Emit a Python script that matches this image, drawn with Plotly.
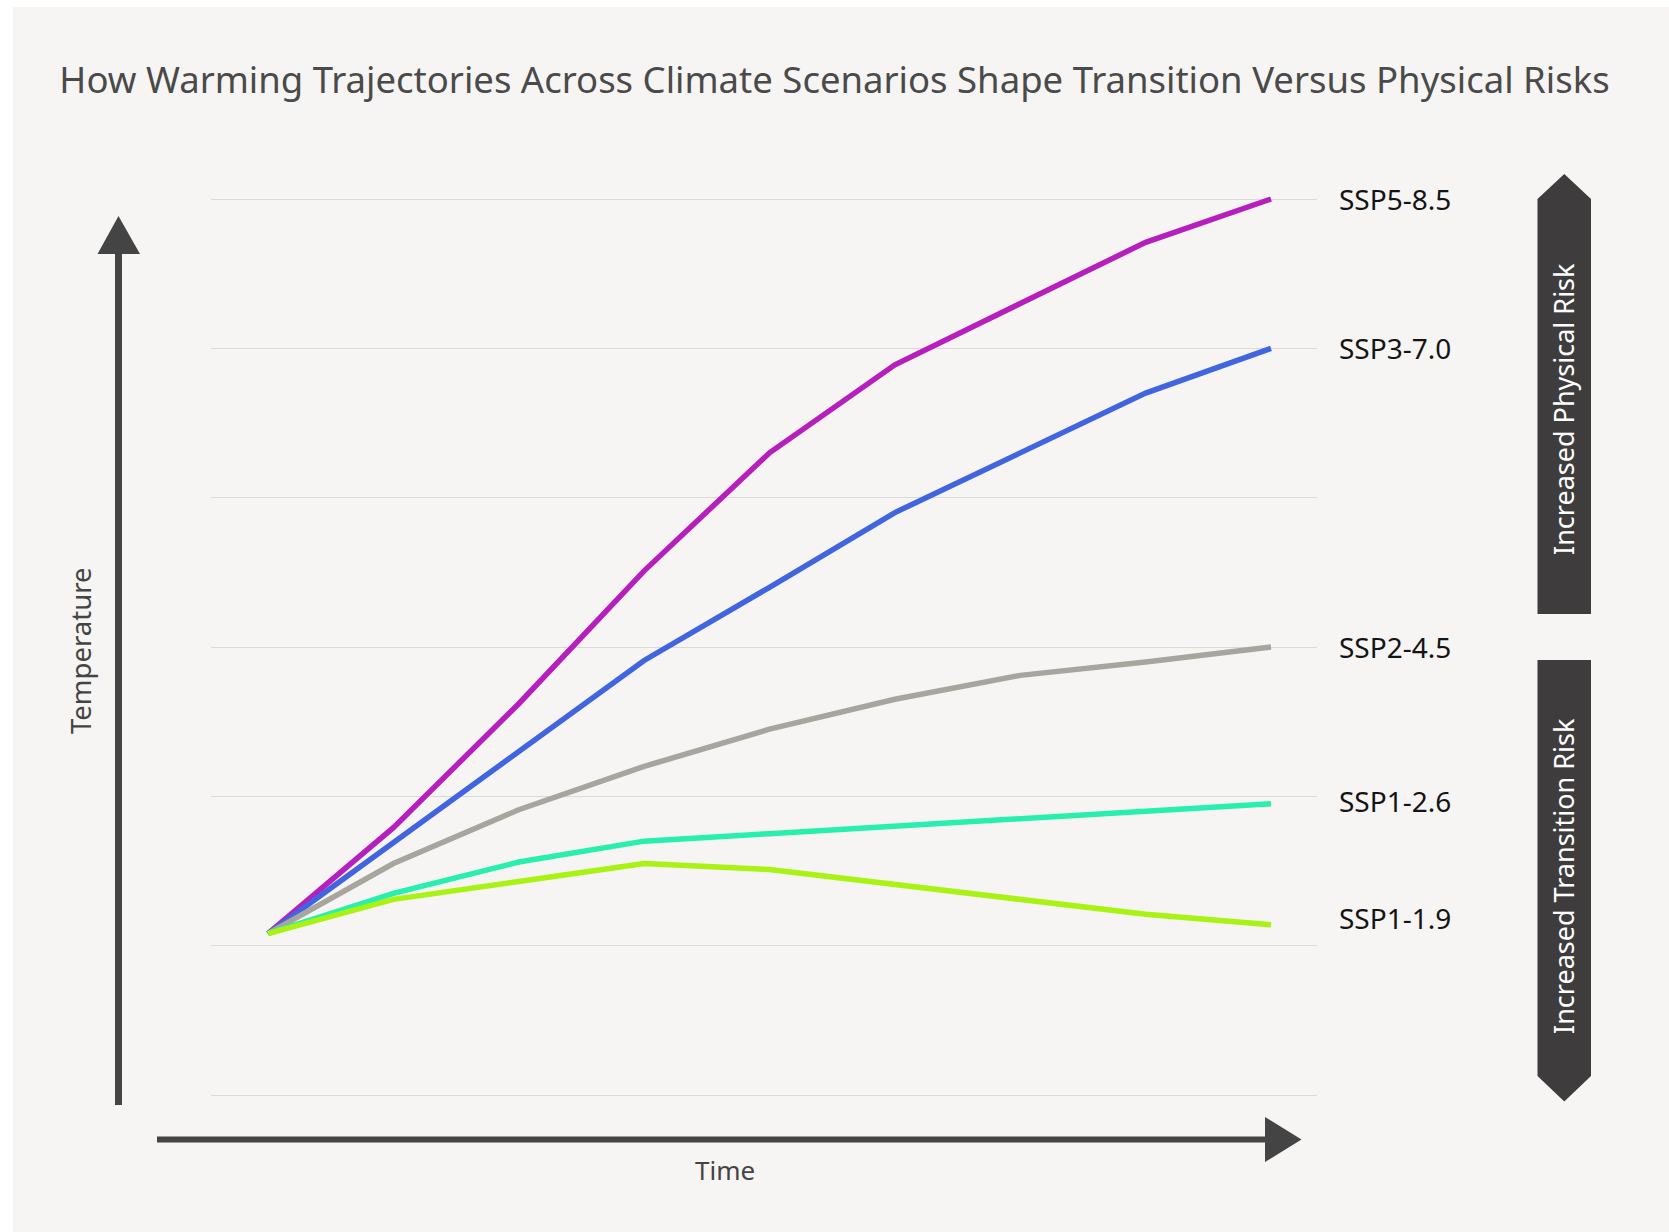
import plotly.graph_objects as go

# ---------------- data ----------------
years = [2020, 2030, 2040, 2050, 2060, 2070, 2080, 2090, 2100]
scenario_names = ["SSP5-8.5", "SSP3-7.0", "SSP2-4.5", "SSP1-2.6", "SSP1-1.9"]
ssp585 = [1.08, 1.79, 2.62, 3.51, 4.30, 4.89, 5.30, 5.71, 6.00]
ssp370 = [1.08, 1.69, 2.30, 2.91, 3.40, 3.90, 4.30, 4.70, 5.00]
ssp245 = [1.08, 1.55, 1.91, 2.20, 2.45, 2.65, 2.81, 2.90, 3.00]
ssp126 = [1.08, 1.35, 1.56, 1.70, 1.75, 1.80, 1.85, 1.90, 1.95]
ssp119 = [1.08, 1.31, 1.43, 1.55, 1.51, 1.41, 1.31, 1.21, 1.14]
series = [ssp585, ssp370, ssp245, ssp126, ssp119]
colors = ["#b71fbd", "#4065de", "#a8a59f", "#29efae", "#a9f214"]
label_shift = [0, 0, 0, 3, 7]

title_text = "How Warming Trajectories Across Climate Scenarios Shape Transition Versus Physical Risks"
x_title = "Time"
y_title = "Temperature"
risk_up = "Increased Physical Risk"
risk_down = "Increased Transition Risk"

# ---------------- layout geometry (pixels) ----------------
W, H = 1669, 1232
L, R, T, B = 211, 352, 191, 130
PX0, PX1 = L, W - R
PY0, PY1 = T, H - B

def px(x):
    return (x - PX0) / (PX1 - PX0)

def py(y):
    return (PY1 - y) / (PY1 - PY0)

card = "#f6f5f3"
dark = "#444444"
box = "#3e3c3d"

fig = go.Figure()
for name, vals, col in zip(scenario_names, series, colors):
    fig.add_trace(go.Scatter(x=years, y=vals, mode="lines", name=name,
                             line=dict(color=col, width=5.5), hoverinfo="skip"))

shapes = []
# card background
shapes.append(dict(type="rect", xref="paper", yref="paper", layer="below",
                   x0=px(13), x1=px(W + 5), y0=py(7), y1=py(H + 5),
                   fillcolor=card, line=dict(width=0)))
# vertical axis arrow
shapes.append(dict(type="line", xref="paper", yref="paper",
                   x0=px(118.5), x1=px(118.5), y0=py(1105), y1=py(250),
                   line=dict(color=dark, width=7)))
shapes.append(dict(type="path", xref="paper", yref="paper",
                   path=f"M {px(97.5)},{py(254)} L {px(140)},{py(254)} L {px(118.5)},{py(216)} Z",
                   fillcolor=dark, line=dict(width=0)))
# horizontal axis arrow
shapes.append(dict(type="line", xref="paper", yref="paper",
                   x0=px(157), x1=px(1268), y0=py(1139.5), y1=py(1139.5),
                   line=dict(color=dark, width=6)))
shapes.append(dict(type="path", xref="paper", yref="paper",
                   path=f"M {px(1265)},{py(1117)} L {px(1301.5)},{py(1139.5)} L {px(1265)},{py(1162)} Z",
                   fillcolor=dark, line=dict(width=0)))
# right risk boxes
bx0, bx1, bxc = 1537.5, 1591, 1564.3
shapes.append(dict(type="path", xref="paper", yref="paper",
                   path=(f"M {px(bx0)},{py(614)} L {px(bx0)},{py(199)} L {px(bxc)},{py(174)} "
                         f"L {px(bx1)},{py(199)} L {px(bx1)},{py(614)} Z"),
                   fillcolor=box, line=dict(width=0)))
shapes.append(dict(type="path", xref="paper", yref="paper",
                   path=(f"M {px(bx0)},{py(660)} L {px(bx0)},{py(1076)} L {px(bxc)},{py(1101.5)} "
                         f"L {px(bx1)},{py(1076)} L {px(bx1)},{py(660)} Z"),
                   fillcolor=box, line=dict(width=0)))

annotations = []
for name, vals, sh in zip(scenario_names, series, label_shift):
    annotations.append(dict(text=name, xref="paper", yref="y", x=px(1337), y=vals[-1],
                            xanchor="left", yanchor="middle", showarrow=False, yshift=sh,
                            font=dict(family="Noto Sans", size=28, color="#141414")))
annotations.append(dict(text=y_title, xref="paper", yref="paper", x=px(80), y=py(651),
                        textangle=-90, showarrow=False, xanchor="center", yanchor="middle",
                        font=dict(family="Noto Sans", size=27.5, color=dark)))
annotations.append(dict(text=x_title, xref="paper", yref="paper", x=px(725), y=py(1170),
                        showarrow=False, xanchor="center", yanchor="middle",
                        font=dict(family="Noto Sans", size=26, color=dark)))
annotations.append(dict(text=risk_up, xref="paper", yref="paper", x=px(1563), y=py(409),
                        textangle=-90, showarrow=False, xanchor="center", yanchor="middle",
                        font=dict(family="Noto Sans", size=27, color="#ffffff")))
annotations.append(dict(text=risk_down, xref="paper", yref="paper", x=px(1563), y=py(876),
                        textangle=-90, showarrow=False, xanchor="center", yanchor="middle",
                        font=dict(family="Noto Sans", size=27, color="#ffffff")))

# y range: 6 at px 199, 0 at px 1095
upp = (1095 - 199) / 6.0
y_lo = -(PY1 - 1095) / upp
y_hi = 6 + (199 - PY0) / upp
# x range: 2020 at px 268, 2100 at px 1271
xpp = (1271 - 268) / 80.0
x_lo = 2020 - (268 - PX0) / xpp
x_hi = 2100 + (PX1 - 1271) / xpp

fig.update_layout(
    width=W, height=H,
    margin=dict(l=L, r=R, t=T, b=B, pad=0),
    paper_bgcolor="#ffffff",
    plot_bgcolor=card,
    showlegend=False,
    title=dict(text=title_text, xref="container", yref="container", x=0.5, y=1 - 80 / H,
               xanchor="center", yanchor="middle",
               font=dict(family="Noto Sans", size=36.5, color="#4a4a4a")),
    xaxis=dict(range=[x_lo, x_hi], showgrid=False, zeroline=False, showticklabels=False,
               showline=False, ticks=""),
    yaxis=dict(range=[y_lo, y_hi], dtick=1, tick0=0, showgrid=True, gridcolor="#d9d9d9",
               gridwidth=1, zeroline=False, showticklabels=False, showline=False, ticks=""),
    shapes=shapes,
    annotations=annotations,
)

fig.write_html("out.html", config={"displayModeBar": False},
               post_script="document.body.style.margin='0px';document.body.style.padding='0px';")
